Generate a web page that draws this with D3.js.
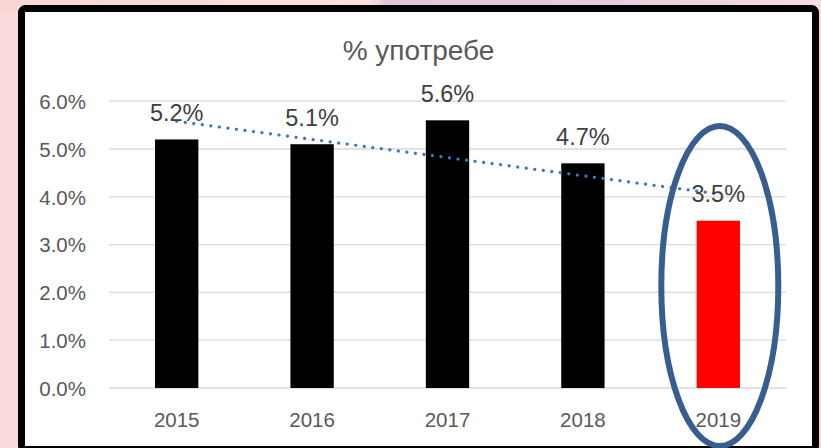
<!DOCTYPE html>
<html>
<head>
<meta charset="utf-8">
<script src="https://cdn.jsdelivr.net/npm/d3@7"></script>
<style>
    body { margin: 0; background: #f9d9d9; }
    svg { display: block; }
    text { font-family: "Liberation Sans", Arial, sans-serif; }
</style>
</head>
<body>
<script>
(function() {

    // chart data
    let years = ["2015", "2016", "2017", "2018", "2019"];
    let usage = [5.2, 5.1, 5.6, 4.7, 3.5];
    let barColors = ["#000000", "#000000", "#000000", "#000000", "#ff0000"];
    let yTicks = [0, 1, 2, 3, 4, 5, 6];
    let chartTitle = "% употребе";

    let width = 821,
        height = 448;

    const svg = d3.select("body")
        .append("svg")
        .attr("width", width)
        .attr("height", height);

    //pink / lavender slide background
    const grad = svg.append("defs").append("linearGradient")
        .attr("id", "bg")
        .attr("x1", "0").attr("x2", "1").attr("y1", "0").attr("y2", "0");
    grad.append("stop").attr("offset", "0").attr("stop-color", "#f9d6d6");
    grad.append("stop").attr("offset", "0.45").attr("stop-color", "#f7e2e2");
    grad.append("stop").attr("offset", "0.47").attr("stop-color", "#ddc6db");
    grad.append("stop").attr("offset", "0.75").attr("stop-color", "#e3cfe0");
    grad.append("stop").attr("offset", "1").attr("stop-color", "#f6dede");
    svg.append("rect")
        .attr("width", width).attr("height", 12)
        .attr("fill", "url(#bg)");

    //white chart box with thick black frame
    svg.append("rect")
        .attr("x", 21.5)
        .attr("y", 8.5)
        .attr("width", 794)
        .attr("height", 441)
        .attr("rx", 4)
        .attr("fill", "#ffffff")
        .attr("stroke", "#000000")
        .attr("stroke-width", 7);

    const x = d3.scaleBand()
        .domain(years)
        .range([109, 786])
        .paddingInner(0.68)
        .paddingOuter(0.34);

    const y = d3.scaleLinear()
        .domain([0, 6])
        .range([388, 101.2]);

    //gridlines
    svg.append("g")
        .selectAll("line")
        .data(yTicks)
        .enter()
        .append("line")
        .attr("x1", 109)
        .attr("x2", 786)
        .attr("y1", d => y(d))
        .attr("y2", d => y(d))
        .attr("stroke", "#d9d9d9")
        .attr("stroke-width", 1.3);

    //y axis
    const yAxis = svg.append("g")
        .attr("transform", "translate(86,0)")
        .call(d3.axisLeft(y).tickValues(yTicks).tickSize(0).tickPadding(0)
            .tickFormat(d => d.toFixed(1) + "%"));
    yAxis.select(".domain").remove();
    yAxis.selectAll("text")
        .attr("font-size", 20.5)
        .attr("font-family", "Liberation Sans, Arial, sans-serif")
        .attr("fill", "#595959")
        .attr("dy", "0.36em");

    //x axis
    const xAxis = svg.append("g")
        .attr("transform", "translate(0,388)")
        .call(d3.axisBottom(x).tickSize(0).tickPadding(0));
    xAxis.select(".domain").remove();
    xAxis.selectAll("text")
        .attr("font-size", 20.5)
        .attr("font-family", "Liberation Sans, Arial, sans-serif")
        .attr("fill", "#595959")
        .attr("dy", null)
        .attr("y", 39);

    //bars
    svg.selectAll(".bar")
        .data(usage)
        .enter()
        .append("rect")
        .attr("class", "bar")
        .attr("x", (d, i) => x(years[i]))
        .attr("width", x.bandwidth())
        .attr("y", d => y(d))
        .attr("height", d => y(0) - y(d))
        .attr("fill", (d, i) => barColors[i]);

    //linear trendline (least squares over the series)
    let n = usage.length;
    let mx = d3.mean(usage, (d, i) => i);
    let my = d3.mean(usage);
    let sxy = d3.sum(usage, (d, i) => (i - mx) * (d - my));
    let sxx = d3.sum(usage, (d, i) => (i - mx) * (i - mx));
    let slope = sxy / sxx;
    let trend = usage.map((d, i) => [i, my + slope * (i - mx)]);
    let cx = i => x(years[i]) + x.bandwidth() / 2;

    svg.append("path")
        .datum([trend[0], trend[n - 1]])
        .attr("d", d3.line().x(d => cx(d[0])).y(d => y(d[1])))
        .attr("fill", "none")
        .attr("stroke", "#4472c4")
        .attr("stroke-width", 3.2)
        .attr("stroke-linecap", "round")
        .attr("stroke-dasharray", "0.1 8.5");

    //data labels
    svg.selectAll(".label")
        .data(usage)
        .enter()
        .append("text")
        .attr("class", "label")
        .attr("x", (d, i) => cx(i))
        .attr("y", d => y(d) - 18.5)
        .attr("text-anchor", "middle")
        .attr("font-size", 23.5)
        .attr("fill", "#404040")
        .text(d => d.toFixed(1) + "%");

    //title
    svg.append("text")
        .attr("x", 418.5)
        .attr("y", 60)
        .attr("text-anchor", "middle")
        .attr("font-size", 28)
        .attr("fill", "#595959")
        .text(chartTitle);

    //highlight ellipse around the last year
    svg.append("ellipse")
        .attr("cx", cx(n - 1) + 1.5)
        .attr("cy", 286)
        .attr("rx", 58.5)
        .attr("ry", 160)
        .attr("fill", "none")
        .attr("stroke", "#375e8f")
        .attr("stroke-width", 6);

})();
</script>
</body>
</html>
